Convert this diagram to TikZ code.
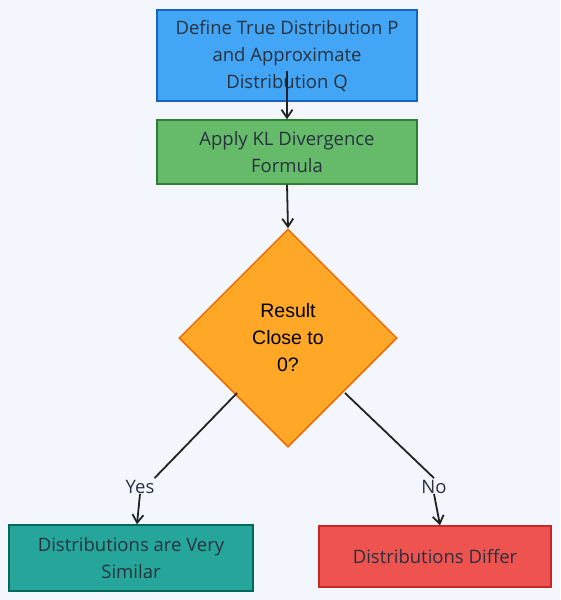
\documentclass[tikz,border=0pt]{standalone}
\usepackage{fontspec}
\setmainfont{Open Sans}
\newfontfamily\dfont{Liberation Sans}
\usetikzlibrary{shapes.geometric,arrows.meta}
\definecolor{bgc}{RGB}{243,247,253}
\definecolor{txt}{RGB}{40,50,62}
\definecolor{bluef}{RGB}{66,165,245}
\definecolor{blued}{RGB}{21,101,192}
\definecolor{greenf}{RGB}{102,187,106}
\definecolor{greend}{RGB}{46,125,50}
\definecolor{orangef}{RGB}{255,167,38}
\definecolor{oranged}{RGB}{239,108,0}
\definecolor{tealf}{RGB}{38,166,154}
\definecolor{teald}{RGB}{0,105,92}
\definecolor{redf}{RGB}{239,83,80}
\definecolor{redd}{RGB}{198,40,40}
\definecolor{linec}{RGB}{34,34,34}
\begin{document}
\begin{tikzpicture}[x=1pt,y=-1pt,
  boxst/.style={draw, line width=1.5pt, text=txt, align=center, font=\fontsize{18.5}{27}\selectfont, inner sep=0pt},
  diast/.style={draw, line width=1.5pt, diamond, align=center, text=black, font=\dfont\fontsize{19.5}{27}\selectfont, minimum width=218pt, minimum height=218pt, inner sep=0pt},
  conn/.style={draw=linec, line width=1.8pt},
  arr/.style={conn, -{Straight Barb[length=8pt,width=11pt]}},
  lbl/.style={text=txt, font=\fontsize{18.5}{22}\selectfont, inner sep=2pt}]
\fill[bgc] (0,0) rectangle (560,600);
\useasboundingbox (0,0) rectangle (560,600);
\node[boxst, fill=bluef, draw=blued, minimum width=260pt, minimum height=91pt] (b1) at (287,55.5) {Define True Distribution P\\and Approximate\\Distribution Q};
\node[boxst, fill=greenf, draw=greend, minimum width=260pt, minimum height=64pt] (b2) at (287,152) {Apply KL Divergence\\Formula};
\node[diast, fill=orangef, draw=oranged] (d) at (288,338) {Result\\Close to\\0?};
\node[boxst, fill=tealf, draw=teald, minimum width=244pt, minimum height=66pt] (y) at (131,558) {Distributions are Very\\Similar};
\node[boxst, fill=redf, draw=redd, minimum width=232pt, minimum height=61pt] (n) at (435,556.5) {Distributions Differ};
\node[lbl] (ly) at (140,487) {Yes};
\node[lbl] (ln) at (434,487) {No};
\coordinate (s1) at ([yshift=-15pt]b1.center);
\draw[arr] (s1) -- (b2.north);
\draw[arr] (b2.south) -- (d.north);
\draw[conn] ([shift={(-51pt,-55pt)}]d.center) -- ([xshift=-2pt]ly.north east);
\draw[arr] ([yshift=2pt]ly.south) -- ([xshift=6pt]y.north);
\draw[conn] ([shift={(57pt,-55pt)}]d.center) -- (ln.north);
\draw[arr] ([yshift=2pt]ln.south) -- ([xshift=5pt]n.north);
\end{tikzpicture}
\end{document}
